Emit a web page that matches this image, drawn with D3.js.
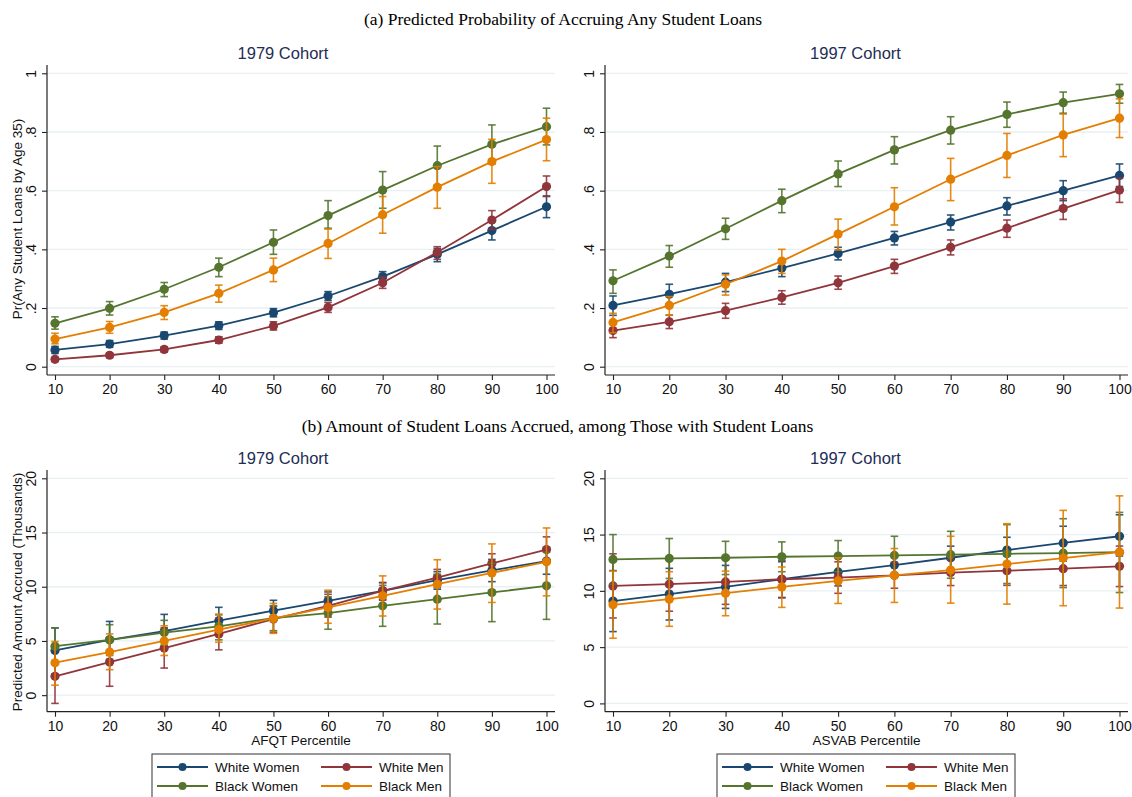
<!DOCTYPE html>
<html><head><meta charset="utf-8">
<script src="https://cdn.jsdelivr.net/npm/d3@7"></script>
<style>body{margin:0;background:#fff}</style>
</head><body><svg id="c" width="1132" height="797"></svg>
<script>
// ---------- DATA ----------
const percentiles = [10,20,30,40,50,60,70,80,90,100];
const groups = ["White Women","White Men","Black Women","Black Men"];
const probTicks = [0,0.2,0.4,0.6,0.8,1];
const probTickLabels = ["0",".2",".4",".6",".8","1"];
const amtTicks = [0,5,10,15,20];
const amtTickLabels = ["0","5","10","15","20"];

// (a) 1979 cohort, probability
const p79_WW    = [0.057,0.077,0.106,0.140,0.184,0.241,0.307,0.383,0.464,0.545];
const p79_WW_lo = [0.045,0.066,0.094,0.127,0.170,0.226,0.290,0.358,0.432,0.508];
const p79_WW_hi = [0.069,0.089,0.118,0.153,0.198,0.256,0.324,0.403,0.494,0.582];
const p79_WM    = [0.025,0.039,0.059,0.091,0.139,0.202,0.286,0.390,0.500,0.614];
const p79_WM_lo = [0.018,0.031,0.050,0.080,0.125,0.185,0.267,0.366,0.468,0.580];
const p79_WM_hi = [0.032,0.047,0.068,0.102,0.153,0.219,0.305,0.409,0.532,0.650];
const p79_BW    = [0.148,0.199,0.264,0.339,0.424,0.515,0.602,0.685,0.758,0.818];
const p79_BW_lo = [0.128,0.176,0.239,0.307,0.383,0.472,0.540,0.619,0.691,0.756];
const p79_BW_hi = [0.170,0.222,0.287,0.370,0.466,0.566,0.665,0.752,0.824,0.881];
const p79_BM    = [0.094,0.134,0.185,0.250,0.330,0.420,0.518,0.612,0.699,0.774];
const p79_BM_lo = [0.078,0.114,0.161,0.220,0.290,0.369,0.455,0.540,0.625,0.702];
const p79_BM_hi = [0.114,0.154,0.208,0.278,0.370,0.469,0.580,0.682,0.775,0.847];

// (a) 1997 cohort, probability
const p97_WW    = [0.209,0.247,0.288,0.336,0.386,0.439,0.493,0.548,0.600,0.652];
const p97_WW_lo = [0.175,0.214,0.256,0.307,0.364,0.415,0.466,0.517,0.566,0.614];
const p97_WW_hi = [0.241,0.281,0.318,0.364,0.407,0.461,0.517,0.576,0.634,0.691];
const p97_WM    = [0.123,0.153,0.191,0.236,0.286,0.343,0.407,0.472,0.539,0.602];
const p97_WM_lo = [0.099,0.130,0.165,0.213,0.264,0.318,0.381,0.441,0.502,0.560];
const p97_WM_hi = [0.148,0.176,0.216,0.259,0.309,0.366,0.432,0.500,0.572,0.642];
const p97_BW    = [0.293,0.377,0.470,0.566,0.657,0.739,0.806,0.860,0.900,0.930];
const p97_BW_lo = [0.250,0.339,0.434,0.525,0.614,0.691,0.759,0.816,0.864,0.898];
const p97_BW_hi = [0.330,0.413,0.506,0.605,0.701,0.784,0.852,0.902,0.936,0.962];
const p97_BM    = [0.151,0.209,0.281,0.360,0.452,0.545,0.639,0.720,0.790,0.847];
const p97_BM_lo = [0.116,0.175,0.244,0.318,0.398,0.483,0.566,0.645,0.716,0.781];
const p97_BM_hi = [0.182,0.239,0.313,0.400,0.503,0.610,0.710,0.795,0.861,0.913];

// (b) 1979 cohort, amount (thousands)
const a79_WW    = [4.12,5.10,5.90,6.87,7.79,8.70,9.62,10.60,11.50,12.37];
const a79_WW_lo = [1.95,3.30,4.30,5.70,6.90,7.94,8.85,9.77,10.47,11.15];
const a79_WW_hi = [6.20,6.80,7.45,8.10,8.75,9.52,10.38,11.39,12.52,13.59];
const a79_WM    = [1.74,3.05,4.34,5.65,7.02,8.24,9.62,10.84,12.15,13.43];
const a79_WM_lo = [-0.76,0.82,2.50,4.18,5.80,7.20,8.76,9.92,11.15,12.21];
const a79_WM_hi = [4.20,5.30,6.20,7.10,8.20,9.30,10.38,11.60,13.04,14.60];
const a79_BW    = [4.52,5.10,5.77,6.35,7.11,7.57,8.24,8.85,9.47,10.08];
const a79_BW_lo = [2.85,3.66,4.60,5.10,5.95,6.08,6.35,6.56,6.78,6.99];
const a79_BW_hi = [6.20,6.50,6.90,7.40,8.25,9.07,10.13,11.15,12.16,13.17];
const a79_BM    = [2.99,3.97,5.00,6.05,7.08,8.09,9.16,10.23,11.27,12.30];
const a79_BM_lo = [0.92,2.35,3.66,4.88,5.70,6.63,7.30,7.94,8.55,9.16];
const a79_BM_hi = [4.95,5.65,6.40,7.48,8.46,9.68,11.00,12.49,13.95,15.42];

// (b) 1997 cohort, amount (thousands)
const a97_WW    = [9.09,9.71,10.35,11.03,11.68,12.29,12.94,13.62,14.26,14.85];
const a97_WW_lo = [6.38,7.41,8.44,9.41,10.44,11.30,11.90,12.50,12.65,13.10];
const a97_WW_hi = [11.80,12.00,12.26,12.59,12.90,13.20,13.97,14.76,15.74,16.76];
const a97_WM    = [10.44,10.59,10.79,11.03,11.18,11.38,11.62,11.79,11.97,12.18];
const a97_WM_lo = [7.59,8.19,8.80,9.38,9.78,10.23,10.47,10.49,10.47,10.38];
const a97_WM_hi = [13.29,12.99,12.80,12.68,12.58,12.53,12.77,13.09,13.47,13.98];
const a97_BW    = [12.79,12.88,12.94,13.03,13.09,13.15,13.21,13.29,13.35,13.44];
const a97_BW_lo = [10.60,11.10,11.45,11.70,11.70,11.45,11.12,10.65,10.29,9.85];
const a97_BW_hi = [15.00,14.65,14.40,14.35,14.47,14.85,15.29,15.88,16.41,16.97];
const a97_BM    = [8.76,9.26,9.79,10.35,10.88,11.38,11.85,12.38,12.91,13.44];
const a97_BM_lo = [5.79,6.85,7.79,8.53,8.88,8.97,8.91,8.82,8.68,8.47];
const a97_BM_hi = [11.76,11.70,11.76,12.12,12.94,13.76,14.85,15.97,17.15,18.44];

// ---------- STYLE ----------
const colors = ["#1a476f","#90353b","#55752f","#e37e00"];
const sans = "'Liberation Sans', Arial, Helvetica, sans-serif";
const serif = "'Liberation Serif', 'Times New Roman', serif";

const svg = d3.select("#c");

function pack(m, lo, hi){ return percentiles.map((x,i)=>({x, m:m[i], lo:lo[i], hi:hi[i]})); }

const panels = [
  {x0:47, x1:555, y0:65, y1:375, title:"1979 Cohort", tx:283, ty:59,
   yTitle:"Pr(Any Student Loans by Age 35)", ytY:219, ymax:1, ticks:probTicks, tlab:probTickLabels, xTitle:null,
   series:[pack(p79_WW,p79_WW_lo,p79_WW_hi),pack(p79_WM,p79_WM_lo,p79_WM_hi),pack(p79_BW,p79_BW_lo,p79_BW_hi),pack(p79_BM,p79_BM_lo,p79_BM_hi)]},
  {x0:605, x1:1128, y0:65, y1:375, title:"1997 Cohort", tx:855.5, ty:59,
   yTitle:null, ymax:1, ticks:probTicks, tlab:probTickLabels, xTitle:null,
   series:[pack(p97_WW,p97_WW_lo,p97_WW_hi),pack(p97_WM,p97_WM_lo,p97_WM_hi),pack(p97_BW,p97_BW_lo,p97_BW_hi),pack(p97_BM,p97_BM_lo,p97_BM_hi)]},
  {x0:47, x1:555, y0:470, y1:711.7, title:"1979 Cohort", tx:283, ty:464,
   yTitle:"Predicted Amount Accrued (Thousands)", ytY:592, ymax:20, ticks:amtTicks, tlab:amtTickLabels, xTitle:"AFQT Percentile",
   series:[pack(a79_WW,a79_WW_lo,a79_WW_hi),pack(a79_WM,a79_WM_lo,a79_WM_hi),pack(a79_BW,a79_BW_lo,a79_BW_hi),pack(a79_BM,a79_BM_lo,a79_BM_hi)]},
  {x0:605, x1:1128, y0:470, y1:711.7, title:"1997 Cohort", tx:855.5, ty:464,
   yTitle:null, ymax:20, ticks:amtTicks, tlab:amtTickLabels, xTitle:"ASVAB Percentile",
   series:[pack(a97_WW,a97_WW_lo,a97_WW_hi),pack(a97_WM,a97_WM_lo,a97_WM_hi),pack(a97_BW,a97_BW_lo,a97_BW_hi),pack(a97_BM,a97_BM_lo,a97_BM_hi)]}
];

// main titles
svg.append("text").attr("x",563).attr("y",25).attr("text-anchor","middle")
  .style("font-family",serif).style("font-size","17.5px").attr("fill","#000")
  .text("(a)  Predicted Probability of Accruing Any Student Loans");
svg.append("text").attr("x",557.5).attr("y",432).attr("text-anchor","middle")
  .style("font-family",serif).style("font-size","17.5px").attr("fill","#000")
  .text("(b)  Amount of Student Loans Accrued, among Those with Student Loans");

panels.forEach(p=>{
  const g = svg.append("g");
  const x = d3.scaleLinear().domain([10,100]).range([p.x0+8, p.x1-8.5]);
  const ymin = Math.min(0, d3.min(p.series, s=>d3.min(s, d=>d.lo)));
  const y = d3.scaleLinear().domain([ymin, p.ymax]).range([p.y1-8.3, p.y0+8.3]);

  // gridlines
  g.selectAll(".grid").data(p.ticks).enter().append("line")
    .attr("x1",p.x0+1).attr("x2",p.x1).attr("y1",d=>y(d)).attr("y2",d=>y(d))
    .attr("stroke","#e8f0f3").attr("stroke-width",1.3);

  // y axis
  const yAxis = d3.axisLeft(y).tickValues(p.ticks).tickSize(5).tickFormat((d,i)=>p.tlab[i]);
  const ya = g.append("g").attr("transform",`translate(${p.x0},0)`).call(yAxis);
  ya.select(".domain").attr("d",`M0,${p.y0}V${p.y1}`).attr("stroke","#222").attr("stroke-width",1.2);
  ya.selectAll(".tick line").attr("stroke","#222").attr("stroke-width",1.1);
  ya.selectAll(".tick text").attr("x",null).attr("dy",null).attr("y",null)
    .attr("transform","translate(-11,0) rotate(-90)").attr("text-anchor","middle")
    .style("font-family",sans).style("font-size","14px").attr("fill","#111");

  // x axis
  const xAxis = d3.axisBottom(x).tickValues(percentiles).tickSize(5).tickFormat(d3.format("d"));
  const xa = g.append("g").attr("transform",`translate(0,${p.y1})`).call(xAxis);
  xa.select(".domain").attr("d",`M${p.x0},0H${p.x1}`).attr("stroke","#222").attr("stroke-width",1.2);
  xa.selectAll(".tick line").attr("stroke","#222").attr("stroke-width",1.1);
  xa.selectAll(".tick text").attr("dy",null).attr("y",19.3)
    .style("font-family",sans).style("font-size","14px").attr("fill","#111");

  // titles
  g.append("text").attr("x",p.tx).attr("y",p.ty).attr("text-anchor","middle")
    .style("font-family",sans).style("font-size","16.5px").attr("fill","#1e2d56").text(p.title);
  if(p.yTitle){
    g.append("text").attr("transform",`translate(22,${p.ytY}) rotate(-90)`).attr("text-anchor","middle")
      .style("font-family",sans).style("font-size","13.5px").attr("fill","#111").text(p.yTitle);
  }
  if(p.xTitle){
    g.append("text").attr("x",(p.x0+p.x1)/2).attr("y",p.y1+33.5).attr("text-anchor","middle")
      .style("font-family",sans).style("font-size","13.5px").attr("fill","#111").text(p.xTitle);
  }

  // series
  const line = d3.line().x(d=>x(d.x)).y(d=>y(d.m));
  p.series.forEach((s,si)=>{
    const c = colors[si];
    const sg = g.append("g");
    const eb = sg.selectAll(".eb").data(s).enter().append("g");
    eb.append("line").attr("x1",d=>x(d.x)).attr("x2",d=>x(d.x)).attr("y1",d=>y(d.lo)).attr("y2",d=>y(d.hi))
      .attr("stroke",c).attr("stroke-width",1.6).attr("opacity",0.9);
    eb.append("line").attr("x1",d=>x(d.x)-3.8).attr("x2",d=>x(d.x)+3.8).attr("y1",d=>y(d.lo)).attr("y2",d=>y(d.lo))
      .attr("stroke",c).attr("stroke-width",1.6).attr("opacity",0.9);
    eb.append("line").attr("x1",d=>x(d.x)-3.8).attr("x2",d=>x(d.x)+3.8).attr("y1",d=>y(d.hi)).attr("y2",d=>y(d.hi))
      .attr("stroke",c).attr("stroke-width",1.6).attr("opacity",0.9);
    sg.append("path").datum(s).attr("d",line).attr("fill","none").attr("stroke",c).attr("stroke-width",1.8);
    sg.selectAll(".pt").data(s).enter().append("circle")
      .attr("cx",d=>x(d.x)).attr("cy",d=>y(d.m)).attr("r",4.6).attr("fill",c);
  });
});

// legends
[152, 717].forEach(lx=>{
  const lg = svg.append("g").attr("transform",`translate(${lx},754)`);
  lg.append("rect").attr("x",0).attr("y",0).attr("width",298).attr("height",70)
    .attr("fill","#fff").attr("stroke","#444").attr("stroke-width",1.1);
  const pos = [[0,0],[1,0],[0,1],[1,1]];
  groups.forEach((name,i)=>{
    const col = pos[i][0], row = pos[i][1];
    const ox = col===0 ? 5 : 169;
    const oy = 13 + row*19;
    lg.append("line").attr("x1",ox).attr("x2",ox+51).attr("y1",oy).attr("y2",oy)
      .attr("stroke",colors[i]).attr("stroke-width",1.8);
    lg.append("circle").attr("cx",ox+25.5).attr("cy",oy).attr("r",4).attr("fill",colors[i]);
    lg.append("text").attr("x",ox+58).attr("y",oy+5).style("font-family",sans).style("font-size","13.5px")
      .attr("fill","#111").text(name);
  });
});
</script></body></html>
